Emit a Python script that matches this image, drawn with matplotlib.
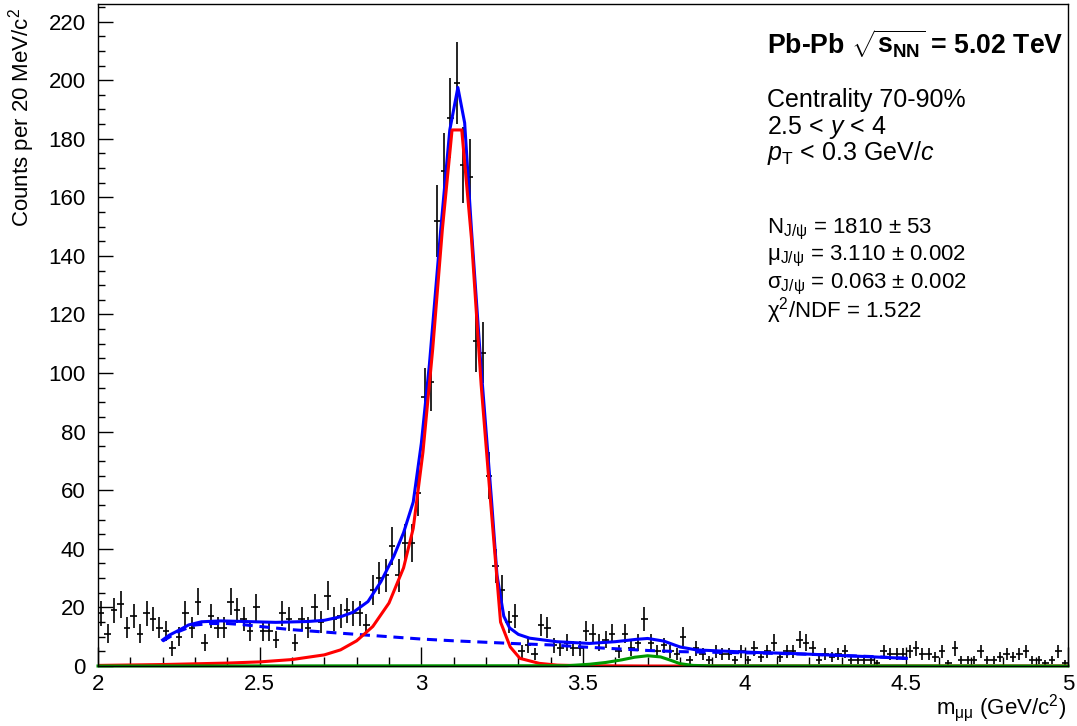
import numpy as np
import matplotlib
matplotlib.use('Agg')
from matplotlib import pyplot as plt
from matplotlib.ticker import MultipleLocator

plt.rcParams['font.family'] = ['Liberation Sans', 'DejaVu Sans']
plt.rcParams['mathtext.fontset'] = 'custom'
plt.rcParams['mathtext.rm'] = 'Liberation Sans'
plt.rcParams['mathtext.it'] = 'Liberation Sans:italic'
plt.rcParams['mathtext.bf'] = 'Liberation Sans:bold'

# data: counts per 20 MeV bin, bin centres 2.01 ... 4.99
mass = np.round(np.arange(2.01, 5.0, 0.02), 3)
counts = np.array([
    18, 11, 19, 21, 13, 17, 11, 18, 16, 13,
    12, 6, 10, 18, 13, 22, 8, 17, 13, 13,
    22, 19, 16, 12, 20, 12, 12, 9, 18, 16,
    8, 16, 13, 20, 15, 24, 16, 17, 19, 18,
    18, 14, 26, 30, 31, 41, 31, 42, 42, 59,
    92, 97, 152, 169, 187, 199, 171, 167, 111, 107,
    65, 34, 26, 15, 17, 5, 7, 4, 14, 13,
    7, 6, 8, 6, 6, 12, 11, 8, 9, 11,
    5, 11, 6, 8, 16, 8, 5, 7, 5, 4,
    10, 2, 6, 4, 2, 5, 4, 4, 2, 5,
    2, 6, 3, 5, 8, 3, 5, 5, 9, 8,
    6, 2, 4, 3, 4, 5, 2, 2, 2, 2,
    1, 5, 4, 4, 4, 5, 6, 4, 4, 3,
    5, 1, 6, 2, 2, 2, 5, 2, 2, 3,
    4, 3, 4, 5, 2, 2, 1, 2, 5, 1], dtype=float)

# fit components
tot_x = [2.2, 2.22, 2.25, 2.28, 2.32, 2.38, 2.45, 2.55, 2.65, 2.70, 2.75, 2.79,
         2.835, 2.875, 2.915, 2.945, 2.975, 3.0, 3.025, 3.06, 3.088, 3.113, 3.134,
         3.155, 3.184, 3.217, 3.234, 3.255, 3.273, 3.30, 3.335, 3.418, 3.52,
         3.60, 3.665, 3.70, 3.75, 3.80, 3.85, 3.93, 4.04, 4.14, 4.25, 4.38, 4.5]
tot_y = [8.9, 10.5, 12.2, 14.0, 15.1, 15.4, 15.2, 14.9, 15.2, 15.6, 16.8, 18.4,
         22.0, 28.8, 37.5, 45.5, 56.0, 76, 103, 149, 183, 197.5, 185.4,
         149, 103, 56.7, 31, 17, 13, 10.8, 9.5, 8.3, 7.7,
         8.3, 9.1, 9.4, 8.5, 6.5, 5.5, 5.1, 4.6, 4.3, 3.8, 3.2, 2.6]

bkg_x = [2.2, 2.25, 2.3, 2.35, 2.4, 2.45, 2.5, 2.6, 2.7, 2.8, 2.9, 3.0, 3.1,
         3.2, 3.3, 3.4, 3.5, 3.6, 3.7, 3.8, 3.9, 4.0, 4.1, 4.2, 4.3, 4.4, 4.5]
bkg_y = [8.5, 11.8, 14.0, 14.5, 14.5, 14.1, 13.5, 12.4, 11.6, 10.8, 10.0, 9.2, 8.6,
         8.1, 7.6, 7.2, 6.5, 5.9, 5.3, 4.9, 4.7, 4.5, 4.3, 4.0, 3.6, 3.2, 2.6]

jpsi_x = [2.0, 2.2, 2.4, 2.5, 2.6, 2.7, 2.75, 2.8, 2.85, 2.9, 2.945, 2.975,
          3.005, 3.035, 3.065, 3.095, 3.125, 3.155, 3.185, 3.215, 3.245,
          3.275, 3.305, 3.365, 3.42, 3.5, 3.7, 5.0]
jpsi_y = [0.2, 0.5, 1.0, 1.4, 2.2, 3.8, 5.5, 8.6, 13.5, 21.5, 33.5, 47,
          73, 108, 149, 183, 183, 146, 96, 55, 15,
          6.5, 2.6, 0.9, 0.3, 0.1, 0.0, 0.0]

psi2s_x = [2.0, 3.45, 3.52, 3.57, 3.62, 3.66, 3.70, 3.74, 3.77, 3.80, 3.84, 3.9, 5.0]
psi2s_y = [0.0, 0.1, 0.6, 1.2, 2.1, 3.0, 3.5, 3.1, 2.0, 0.8, 0.2, 0.05, 0.0]

W, H = 1077, 726
fig = plt.figure(figsize=(W / 100, H / 100), dpi=100)
ax = fig.add_axes([98 / W, 60 / H, 970 / W, 662 / H])

ax.errorbar(mass, counts, yerr=np.sqrt(counts), xerr=0.01, fmt='none',
            ecolor='black', elinewidth=1.2, capsize=0)

ax.plot(bkg_x, bkg_y, color='#0000ff', lw=2.2, dashes=(3.3, 2.2))
ax.plot(tot_x, tot_y, color='#0000ff', lw=2.2)
ax.plot(jpsi_x, jpsi_y, color='#ff0000', lw=2.2)
ax.plot(psi2s_x, psi2s_y, color='#009900', lw=2.2, clip_on=False)

ax.set_xlim(2, 5)
ax.set_ylim(0, 226)
ax.xaxis.set_major_locator(MultipleLocator(0.5))
ax.xaxis.set_minor_locator(MultipleLocator(0.1))
ax.yaxis.set_major_locator(MultipleLocator(20))
ax.yaxis.set_minor_locator(MultipleLocator(5))
ax.xaxis.set_major_formatter(matplotlib.ticker.FuncFormatter(lambda v, p: '%g' % v))
ax.tick_params(which='both', direction='in', top=False, right=False, labelsize=16)
ax.tick_params(axis='x', which='major', length=13.5, width=1, pad=6)
ax.tick_params(axis='x', which='minor', length=6.8, width=1)
ax.tick_params(axis='y', which='major', length=10.5, width=1, pad=9)
ax.tick_params(axis='y', which='minor', length=5.3, width=1)
for s in ax.spines.values():
    s.set_linewidth(1)


def ftext(x, y, s, **kw):
    kw.setdefault('va', 'baseline')
    kw.setdefault('ha', 'left')
    fig.text(x / W, 1 - y / H, s, **kw)


# axis titles
ftext(22, 8, r'Counts per 20 MeV/c$^{2}$', fontsize=16, rotation=90,
      ha='center', va='top')
ftext(1066, 708, r'm$_{\mathrm{μμ}}$ (GeV/c$^{2}$)', fontsize=16,
      ha='right', va='center')

ftext(767, 53, r'Pb-Pb $\mathbf{\sqrt{s_{NN}}}$ = 5.02 TeV', fontsize=19.2, fontweight='bold')
ftext(767, 107, 'Centrality 70-90%', fontsize=18)
ftext(767, 134, r'2.5 < $\it{y}$ < 4', fontsize=18)
ftext(767, 160, r'$\it{p}_{\mathrm{T}}$ < 0.3 GeV/$\it{c}$', fontsize=18)
ftext(767, 233, r'N$_{\mathrm{J/ψ}}$ = 1810 ± 53', fontsize=16)
ftext(767, 260, r'μ$_{\mathrm{J/ψ}}$ = 3.110 ± 0.002', fontsize=16)
ftext(767, 288, r'σ$_{\mathrm{J/ψ}}$ = 0.063 ± 0.002', fontsize=16)
ftext(767, 317, r'χ$^{2}$/NDF = 1.522', fontsize=16)

fig.savefig('out.png', dpi=100)
